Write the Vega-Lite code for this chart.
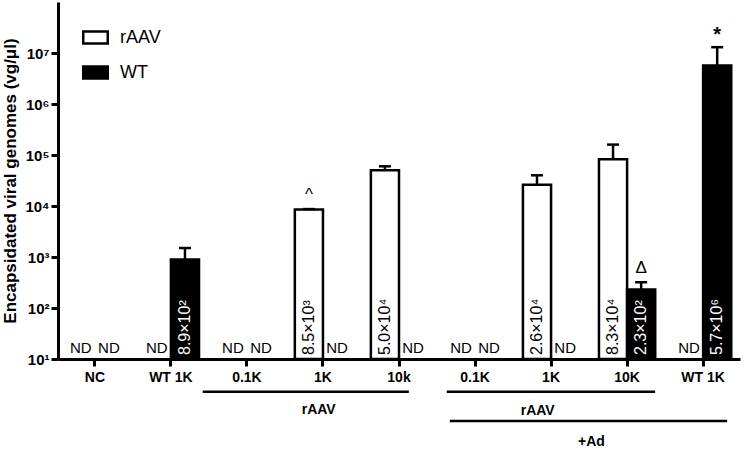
{
  "$schema": "https://vega.github.io/schema/vega-lite/v6.json",
  "width": 682,
  "height": 357,
  "padding": {"left": 1, "top": 2, "right": 2, "bottom": 3},
  "config": {"font": "Liberation Sans", "view": {"stroke": null}},
  "datasets": {
    "bars": [
      {"cond": "NC", "series": "rAAV", "value": null, "err": null, "note": null, "label": null},
      {"cond": "NC", "series": "WT", "value": null, "err": null, "note": null, "label": null},
      {"cond": "WT 1K", "series": "rAAV", "value": null, "err": null, "note": null, "label": null},
      {"cond": "WT 1K", "series": "WT", "value": 890, "err": 1500, "note": null, "label": "8.9×10²"},
      {"cond": "0.1K", "series": "rAAV", "value": null, "err": null, "note": null, "label": null},
      {"cond": "0.1K", "series": "WT", "value": null, "err": null, "note": null, "label": null},
      {"cond": "1K", "series": "rAAV", "value": 8500, "err": 8700, "note": "^", "label": "8.5×10³"},
      {"cond": "1K", "series": "WT", "value": null, "err": null, "note": null, "label": null},
      {"cond": "10k", "series": "rAAV", "value": 50000, "err": 60000, "note": null, "label": "5.0×10⁴"},
      {"cond": "10k", "series": "WT", "value": null, "err": null, "note": null, "label": null},
      {"cond": "0.1K+Ad", "series": "rAAV", "value": null, "err": null, "note": null, "label": null},
      {"cond": "0.1K+Ad", "series": "WT", "value": null, "err": null, "note": null, "label": null},
      {"cond": "1K+Ad", "series": "rAAV", "value": 26000, "err": 40000, "note": null, "label": "2.6×10⁴"},
      {"cond": "1K+Ad", "series": "WT", "value": null, "err": null, "note": null, "label": null},
      {"cond": "10K+Ad", "series": "rAAV", "value": 83000, "err": 160000, "note": null, "label": "8.3×10⁴"},
      {"cond": "10K+Ad", "series": "WT", "value": 230, "err": 320, "note": "Δ", "label": "2.3×10²"},
      {"cond": "WT 1K+Ad", "series": "rAAV", "value": null, "err": null, "note": null, "label": null},
      {"cond": "WT 1K+Ad", "series": "WT", "value": 5700000, "err": 13000000, "note": "*", "label": "5.7×10⁶"}
    ],
    "groups": [
      {"start": 1.91, "end": 4.63, "level": -0.092, "mid": 3.44, "labelLevel": -0.142, "label": "rAAV"},
      {"start": 5.13, "end": 7.88, "level": -0.092, "mid": 6.33, "labelLevel": -0.145, "label": "rAAV"},
      {"start": 5.17, "end": 8.83, "level": -0.174, "mid": 7.04, "labelLevel": -0.232, "label": "+Ad"}
    ]
  },
  "layer": [
    {
      "data": {"name": "bars"},
      "encoding": {
        "x": {
          "field": "cond", "type": "nominal",
          "scale": {"domain": ["NC", "WT 1K", "0.1K", "1K", "10k", "0.1K+Ad", "1K+Ad", "10K+Ad", "WT 1K+Ad"], "paddingInner": 0.26, "paddingOuter": 0.115},
          "axis": {"title": null, "labelExpr": "replace(datum.label, '+Ad', '')", "labelAngle": 0, "labelFontSize": 14, "labelFontWeight": "bold", "labelColor": "black", "labelPadding": 4, "tickSize": 7, "tickWidth": 3, "tickColor": "black", "domainWidth": 3, "domainColor": "black"}
        },
        "xOffset": {"field": "series", "type": "nominal", "scale": {"domain": ["rAAV", "WT"], "paddingInner": 0, "paddingOuter": 0}}
      },
      "layer": [
        {
          "transform": [{"filter": "datum.value != null"}],
          "mark": {"type": "bar", "stroke": "black", "strokeWidth": 2.5},
          "encoding": {
            "y": {
              "field": "value", "type": "quantitative",
              "scale": {"type": "log", "domain": [10, 32000000]},
              "axis": {"title": "Encapsidated viral genomes (vg/μl)", "titleFontSize": 17, "titleFontWeight": "bold", "titleColor": "black", "titlePadding": 5, "values": [10, 100, 1000, 10000, 100000, 1000000, 10000000], "labelExpr": "'10' + ['⁰','¹','²','³','⁴','⁵','⁶','⁷','⁸'][round(log(datum.value)/LN10)]", "labelFontSize": 15, "labelFontWeight": "bold", "labelColor": "black", "tickSize": 7, "tickWidth": 3, "tickColor": "black", "domainWidth": 3, "domainColor": "black", "grid": false}
            },
            "y2": {"datum": 10},
            "color": {
              "field": "series", "type": "nominal",
              "scale": {"domain": ["rAAV", "WT"], "range": ["white", "black"]},
              "legend": {"title": null, "orient": "none", "legendX": 24, "legendY": 22, "labelFontSize": 18, "labelColor": "black", "labelOffset": 11, "symbolType": "M-1,-0.5H1V0.5H-1Z", "symbolSize": 600, "symbolStrokeColor": "black", "symbolStrokeWidth": 2.5, "rowPadding": 10}
            }
          }
        },
        {
          "transform": [{"filter": "datum.err != null"}],
          "mark": {"type": "rule", "stroke": "black", "strokeWidth": 2.5},
          "encoding": {
            "y": {"field": "value", "type": "quantitative", "title": "Encapsidated viral genomes (vg/μl)"},
            "y2": {"field": "err"}
          }
        },
        {
          "transform": [{"filter": "datum.err != null"}],
          "mark": {"type": "tick", "color": "black", "size": 12, "thickness": 2.5, "opacity": 1},
          "encoding": {
            "y": {"field": "err", "type": "quantitative", "title": "Encapsidated viral genomes (vg/μl)"}
          }
        },
        {
          "transform": [{"filter": "datum.label != null"}],
          "mark": {"type": "text", "angle": 270, "align": "left", "baseline": "middle", "dx": 4, "fontSize": 16},
          "encoding": {
            "y": {"datum": 10, "title": "Encapsidated viral genomes (vg/μl)"},
            "text": {"field": "label"},
            "color": {"condition": {"test": "datum.series == 'WT'", "value": "white"}, "value": "black"}
          }
        },
        {
          "transform": [{"filter": "datum.value == null"}],
          "mark": {"type": "text", "baseline": "bottom", "dy": -3, "fontSize": 15, "color": "black"},
          "encoding": {
            "y": {"datum": 10, "title": "Encapsidated viral genomes (vg/μl)"},
            "text": {"value": "ND"}
          }
        },
        {
          "transform": [{"filter": "datum.note != null && datum.note != '*'"}],
          "mark": {"type": "text", "baseline": "bottom", "dy": -5, "fontSize": 17, "color": "black"},
          "encoding": {
            "y": {"field": "err", "type": "quantitative", "title": "Encapsidated viral genomes (vg/μl)"},
            "text": {"field": "note"}
          }
        },
        {
          "transform": [{"filter": "datum.note == '*'"}],
          "mark": {"type": "text", "baseline": "bottom", "dy": -2, "fontSize": 20, "fontWeight": "bold", "color": "black"},
          "encoding": {
            "y": {"field": "err", "type": "quantitative", "title": "Encapsidated viral genomes (vg/μl)"},
            "text": {"field": "note"}
          }
        }
      ]
    },
    {
      "data": {"name": "groups"},
      "layer": [
        {
          "mark": {"type": "rule", "stroke": "black", "strokeWidth": 2.5},
          "encoding": {
            "x": {"field": "start", "type": "quantitative", "scale": {"domain": [0, 9], "nice": false, "zero": false}, "axis": null},
            "x2": {"field": "end"},
            "y": {"field": "level", "type": "quantitative", "scale": {"domain": [0, 1], "nice": false, "zero": false}, "axis": null}
          }
        },
        {
          "mark": {"type": "text", "fontSize": 14, "fontWeight": "bold", "color": "black", "baseline": "middle"},
          "encoding": {
            "x": {"field": "mid", "type": "quantitative", "axis": null},
            "y": {"field": "labelLevel", "type": "quantitative", "axis": null},
            "text": {"field": "label"}
          }
        }
      ]
    }
  ],
  "resolve": {"scale": {"x": "independent", "y": "independent", "color": "independent"}}
}
